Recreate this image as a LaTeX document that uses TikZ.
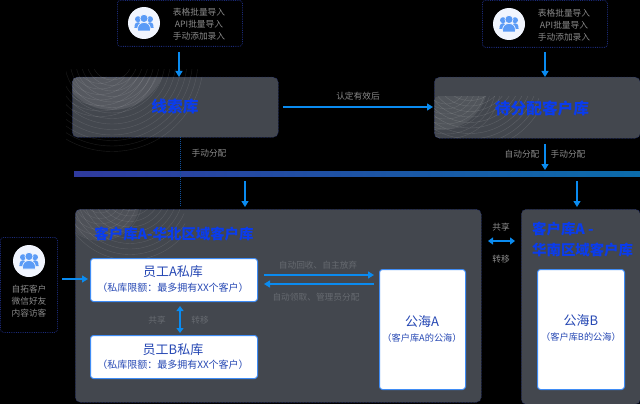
\documentclass[tikz,border=0pt]{standalone}
\usepackage{fontspec}
\setmainfont{Noto Sans CJK SC}
\usetikzlibrary{arrows.meta}
\definecolor{panelc}{HTML}{43474E}
\definecolor{titlec}{HTML}{0A3CEE}
\definecolor{arrowc}{HTML}{0A8BF0}
\definecolor{labelc}{HTML}{8A8A8A}
\definecolor{dimc}{HTML}{666A70}
\definecolor{dotc}{HTML}{1B2A78}
\definecolor{cardt}{HTML}{2648B4}
\definecolor{cardb}{HTML}{3F8CF5}
\definecolor{iconc}{HTML}{5B9BF6}
\definecolor{discc}{HTML}{F1F5FE}
\definecolor{barl}{HTML}{2F3A9E}
\definecolor{barr}{HTML}{0B6CAB}
\definecolor{dotsc}{HTML}{0F4F9A}
\tikzset{
  panel/.style={fill=panelc,draw=dotc,densely dotted,line width=.5pt,rounded corners=5pt,inner sep=0pt,anchor=north west},
  srcbox/.style={draw=dotc,densely dotted,line width=.8pt,rounded corners=3pt,inner sep=0pt,anchor=north west},
  card/.style={fill=white,draw=cardb,line width=1pt,rounded corners=3pt,inner sep=0pt,anchor=north west},
  ttl/.style={text=titlec,font=\bfseries\fontsize{15.7}{20}\selectfont,inner sep=0pt},
  ttls/.style={text=titlec,font=\bfseries\fontsize{14.4}{20}\selectfont,inner sep=0pt},
  capt/.style={text=labelc,font=\fontsize{8.7}{12}\selectfont,inner sep=0pt,align=center},
  dimcap/.style={text=dimc,font=\fontsize{8.7}{12}\selectfont,inner sep=0pt},
  cardh/.style={text=cardt,font=\fontsize{13}{16}\selectfont,inner sep=0pt},
  cards/.style={text=cardt,font=\fontsize{10}{12}\selectfont,inner sep=0pt},
  flow/.style={draw=arrowc,line width=1.3pt,-{Triangle[length=6pt,width=7pt]}},
  flowb/.style={draw=arrowc,line width=1.3pt,{Triangle[length=5pt,width=7pt]}-{Triangle[length=5pt,width=7pt]}},
  disc/.style={circle,fill=discc,minimum size=32pt,inner sep=0pt},
  pics/people/.style={code={
    \fill[iconc] (-6,-3.8) circle[radius=3pt];
    \fill[iconc] (6,-3.8) circle[radius=3pt];
    \fill[iconc] (-9.6,5) .. controls (-9.6,0) and (-7.5,-.8) .. (-6,-.8) .. controls (-4.5,-.8) and (-2,0) .. (-2,5) -- cycle;
    \fill[iconc] (9.6,5) .. controls (9.6,0) and (7.5,-.8) .. (6,-.8) .. controls (4.5,-.8) and (2,0) .. (2,5) -- cycle;
    \fill[iconc,draw=discc,line width=.7pt] (-6.5,8) .. controls (-7,2) and (-4,-.5) .. (0,-.5) .. controls (4,-.5) and (7,2) .. (6.5,8) -- cycle;
    \fill[iconc,draw=discc,line width=.7pt] (0,-4.6) circle[radius=4.1pt];
  }}
}
\begin{document}
\begin{tikzpicture}[x=1pt,y=-1pt]
\fill[black] (0,0) rectangle (640,404);
\useasboundingbox (0,0) rectangle (640,404);

% faint arcs spilling out of the first panel
\begin{scope}
  \clip (66,70) rectangle (200,156);
  \foreach \r in {20,25.5,...,96}
    \draw[white,opacity=.11,line width=.4pt] (112,60) circle[radius=\r pt];
\end{scope}

% panels
\node[panel,minimum width=206pt,minimum height=60pt] (lead) at (72,77) {};
\node[panel,minimum width=206pt,minimum height=61pt] (wait) at (434,77) {};
\node[panel,minimum width=406pt,minimum height=193pt] (custa) at (75,209) {};
\node[panel,minimum width=119pt,minimum height=195pt] (custb) at (521,209) {};

% arcs on panels
\begin{scope}
  \clip[rounded corners=5pt] (72,77) rectangle (278,137);
  \fill[white,opacity=.1] (112,55) circle[radius=55pt];
  \foreach \r in {20,25.5,...,96}
    \draw[white,opacity=.12,line width=.4pt] (112,60) circle[radius=\r pt];
  \foreach \r in {20,25.5,...,60}
    \draw[white,opacity=.12,line width=.4pt] (100,58) circle[radius=\r pt];
\end{scope}
\begin{scope}
  \clip[rounded corners=5pt] (434,96) rectangle (540,138);
  \fill[white,opacity=.08] (440,82) circle[radius=48pt];
  \foreach \r in {25,30.5,...,80}
    \draw[white,opacity=.14,line width=.4pt] (470,70) circle[radius=\r pt];
  \foreach \r in {20,25,...,55}
    \draw[white,opacity=.12,line width=.4pt] (446,84) circle[radius=\r pt];
\end{scope}
\begin{scope}
  \clip[rounded corners=5pt] (75,209) rectangle (185,270);
  \fill[white,opacity=.06] (100,200) circle[radius=40pt];
  \foreach \r in {15,20.5,...,70}
    \draw[white,opacity=.12,line width=.4pt] (130,190) circle[radius=\r pt];
  \foreach \r in {15,20.5,...,45}
    \draw[white,opacity=.1,line width=.4pt] (100,198) circle[radius=\r pt];
\end{scope}

% titles
\node[ttl] at (175,107) {线索库};
\node[ttl] at (542,108) {待分配客户库};
\node[ttls] at (174,234) {客户库A-华北区域客户库};
\node[ttls,anchor=west] at (532,229) {客户库A -};
\node[ttls,anchor=west] at (532,250) {华南区域客户库};

% sources
\node[srcbox,minimum width=125pt,minimum height=46pt] (src1) at (117,0) {};
\node[disc] (d1) at (144,23) {};
\pic at (d1) {people};
\node[capt] at (199,12.5) {表格批量导入};
\node[capt] at (199,24.5) {API批量导入};
\node[capt] at (199,36.5) {手动添加录入};

\node[srcbox,minimum width=125pt,minimum height=47pt] (src2) at (482,0) {};
\node[disc] (d2) at (509,24) {};
\pic at (d2) {people};
\node[capt] at (564,13) {表格批量导入};
\node[capt] at (564,25) {API批量导入};
\node[capt] at (564,37) {手动添加录入};

\node[srcbox,minimum width=57pt,minimum height=95pt] (src3) at (0,237) {};
\node[disc] (d3) at (29,261) {};
\pic at (d3) {people};
\node[capt] at (29,289) {自拓客户};
\node[capt] at (29,301) {微信好友};
\node[capt] at (29,313) {内容访客};

% bar
\node[inner sep=0pt,anchor=north west,minimum width=566pt,minimum height=5.5pt,left color=barl,right color=barr] (bar) at (74,171) {};

% cards
\node[card,minimum width=167pt,minimum height=43pt] (empa) at (90,258) {};
\node[card,minimum width=167pt,minimum height=43pt] (empb) at (90,335) {};
\node[card,minimum width=86pt,minimum height=120pt] (seaa) at (379,269) {};
\node[card,minimum width=87pt,minimum height=120pt] (seab) at (537,269) {};
\node[cardh] at (173,272) {员工A私库};
\node[cards] at (173,288) {（私库限额：最多拥有XX个客户）};
\node[cardh] at (173,350) {员工B私库};
\node[cards] at (173,365) {（私库限额：最多拥有XX个客户）};
\node[cardh] at (422,322) {公海A};
\node[cards,font=\fontsize{9.2}{12}\selectfont] at (422,338) {（客户库A的公海）};
\node[cardh] at (581,321) {公海B};
\node[cards,font=\fontsize{9.2}{12}\selectfont] at (581,337) {（客户库B的公海）};

% connector ends
\coordinate (t1) at (179,52);
\coordinate (t1e) at (179,77);
\coordinate (t2) at (545,52);
\coordinate (t2e) at (545,77);
\coordinate (v1) at (283,107);
\coordinate (v1e) at (433,107);
\coordinate (m1) at (545,144);
\coordinate (m1e) at (545,170);
\coordinate (b1) at (245,181);
\coordinate (b1e) at (245,207);
\coordinate (b2) at (577,181);
\coordinate (b2e) at (577,207);
\coordinate (p1) at (180,137);
\coordinate (p1e) at (180,207);
\coordinate (l1) at (62,279);
\coordinate (l1e) at (88,279);
\coordinate (e1) at (180,306);
\coordinate (e1e) at (180,333);
\coordinate (a1) at (264,275);
\coordinate (a1e) at (374,275);
\coordinate (a2) at (374,284);
\coordinate (a2e) at (264,284);
\coordinate (s1) at (488,241);
\coordinate (s1e) at (515,241);

\draw[flow] (t1) -- (t1e);
\draw[flow] (t2) -- (t2e);
\draw[flow] (v1) -- (v1e);
\draw[flow] (m1) -- (m1e);
\draw[flow] (b1) -- (b1e);
\draw[flow] (b2) -- (b2e);
\draw[draw=dotsc,densely dotted,line width=1pt] (p1) -- (p1e);
\draw[flow] (l1) -- (l1e);
\draw[flowb] (e1) -- (e1e);
\draw[flow] (a1) -- (a1e);
\draw[flow] (a2) -- (a2e);
\draw[flowb] (s1) -- (s1e);

% labels
\node[capt] at (358,96) {认定有效后};
\node[capt] at (209,153) {手动分配};
\node[capt] at (522,154) {自动分配};
\node[capt] at (568,154) {手动分配};
\node[capt] at (501,227) {共享};
\node[capt] at (501,259) {转移};
\node[dimcap] at (157,320) {共享};
\node[dimcap] at (200,320) {转移};
\node[dimcap] at (318,265) {自动回收、自主放弃};
\node[dimcap] at (316,297) {自动领取、管理员分配};
\end{tikzpicture}
\end{document}
